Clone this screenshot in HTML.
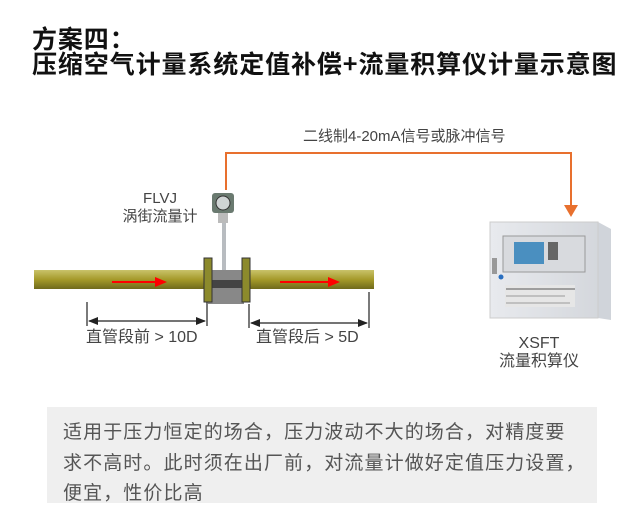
<!DOCTYPE html>
<html><head><meta charset="utf-8"><style>
body{margin:0;width:640px;height:529px;background:#fff;position:relative;overflow:hidden;font-family:"Liberation Sans","Noto Sans CJK SC",sans-serif}
.t{position:absolute;left:32px;font-weight:bold;color:#111;font-size:25px;letter-spacing:0.9px;line-height:25px;white-space:nowrap;font-family:"Noto Sans CJK SC",sans-serif}
.lb{position:absolute;color:#444;font-size:15px;white-space:nowrap;text-align:center;line-height:18px}
.box{position:absolute;left:47px;top:407px;width:550px;height:96px;background:#efefef}
.box div{position:absolute;left:16px;top:9px;font-size:19px;color:#555;line-height:30.5px;letter-spacing:1.1px;white-space:nowrap;font-family:"Noto Sans CJK SC",sans-serif}
</style></head><body>
<div class="t" style="top:26px">方案四：</div>
<div class="t" style="top:51px">压缩空气计量系统定值补偿+流量积算仪计量示意图</div>
<div class="lb" style="left:303px;top:128px">二线制4-20mA信号或脉冲信号</div>
<div class="lb" style="left:120px;top:190px;width:80px">FLVJ<br>涡街流量计</div>
<div class="lb" style="left:494px;top:335px;width:90px;font-size:16px">XSFT<br>流量积算仪</div>
<div class="lb" style="left:86px;top:329px;font-size:16px">直管段前 &gt; 10D</div>
<div class="lb" style="left:256px;top:329px;font-size:16px">直管段后 &gt; 5D</div>
<svg width="640" height="529" style="position:absolute;left:0;top:0">
<defs>
<linearGradient id="p" x1="0" y1="0" x2="0" y2="1"><stop offset="0" stop-color="#c9c36a"/><stop offset=".5" stop-color="#a59a2a"/><stop offset="1" stop-color="#6f6a1c"/></linearGradient>
<linearGradient id="c" x1="0" y1="0" x2="1" y2="0"><stop offset="0" stop-color="#e8eaee"/><stop offset="1" stop-color="#d4d7dc"/></linearGradient>
</defs>
<polyline points="226,190 226,153 571,153 571,208" fill="none" stroke="#e8702e" stroke-width="2"/>
<polygon points="564,205 578,205 571,217" fill="#e8702e"/>
<rect x="34" y="270" width="340" height="19" fill="url(#p)"/>
<rect x="208" y="270" width="36" height="34" fill="#888"/>
<rect x="210" y="280" width="32" height="8" fill="#444"/>
<rect x="204" y="258" width="8" height="44" fill="#8c8a2c" stroke="#333"/>
<rect x="242" y="258" width="8" height="44" fill="#8c8a2c" stroke="#333"/>
<rect x="222" y="222" width="4" height="48" fill="#b8bcc0"/>
<rect x="212" y="193" width="22" height="20" rx="3" fill="#6a7a70"/>
<circle cx="223" cy="203" r="7" fill="#cfd4d4" stroke="#333"/>
<rect x="218" y="213" width="10" height="10" fill="#bbb"/>
<line x1="112" y1="282" x2="160" y2="282" stroke="red" stroke-width="2"/>
<polygon points="155,277 167,282 155,287" fill="red"/>
<line x1="280" y1="282" x2="334" y2="282" stroke="red" stroke-width="2"/>
<polygon points="328,277 340,282 328,287" fill="red"/>
<g stroke="#222" stroke-width="1.2">
<line x1="87" y1="302" x2="87" y2="326"/><line x1="207" y1="302" x2="207" y2="326"/>
<line x1="89" y1="321" x2="205" y2="321"/>
<line x1="249" y1="304" x2="249" y2="328"/><line x1="369" y1="292" x2="369" y2="328"/>
<line x1="251" y1="323" x2="367" y2="323"/>
</g>
<polygon points="88,321 98,317 98,325" fill="#222"/><polygon points="206,321 196,317 196,325" fill="#222"/>
<polygon points="250,323 260,319 260,327" fill="#222"/><polygon points="368,323 358,319 358,327" fill="#222"/>
<polygon points="598,222 611,229 611,320 598,318" fill="#d0d4da"/>
<rect x="490" y="222" width="108" height="96" fill="url(#c)" stroke="#ccc"/>
<rect x="503" y="236" width="82" height="36" fill="#d8dade" stroke="#999"/>
<rect x="514" y="242" width="30" height="22" fill="#4a8fc0"/>
<rect x="548" y="242" width="10" height="18" fill="#666"/>
<rect x="492" y="258" width="5" height="16" fill="#999"/>
<circle cx="501" cy="277" r="2.5" fill="#2a6fc0"/>
<rect x="505" y="285" width="70" height="22" fill="#e6e6e6"/>
<line x1="506" y1="289" x2="575" y2="289" stroke="#555"/>
<line x1="506" y1="296" x2="565" y2="296" stroke="#999"/>
<line x1="506" y1="303" x2="570" y2="303" stroke="#999"/>
</svg>
<div class="box"><div>适用于压力恒定的场合，压力波动不大的场合，对精度要<br>求不高时。此时须在出厂前，对流量计做好定值压力设置，<br>便宜，性价比高</div></div>
</body></html>
